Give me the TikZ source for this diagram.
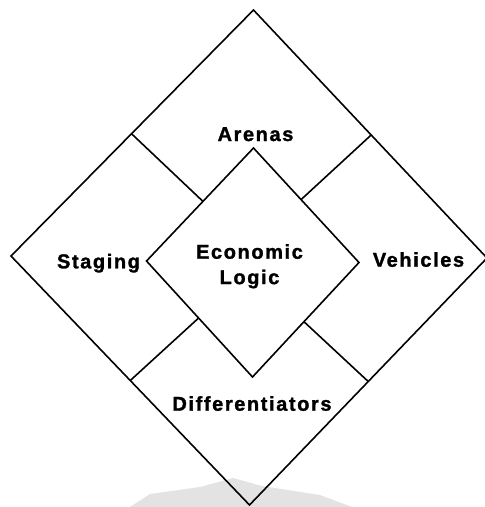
\documentclass[tikz,border=0pt]{standalone}
\usepackage{fontspec}
\usetikzlibrary{calc}
\setmainfont{Liberation Sans}
\newfontfamily\labelfont{Liberation Sans Bold}[LetterSpace=8,FakeBold=1.4]
\begin{document}
\begin{tikzpicture}[x=1pt,y=-1pt,
  frame/.style={draw=black,line width=1.6pt,line join=miter},
  divider/.style={draw=black,line width=1.6pt},
  lab/.style={font={\labelfont\fontsize{20}{25.4}\selectfont},inner sep=0pt,align=center}]
  \useasboundingbox (0,0) rectangle (485,507);
  % faint grey patch under the bottom corner
  \fill[gray!22] (130,507) -- (150,494) -- (200,487) -- (233,478) -- (262,486) -- (320,495) -- (352,507) -- cycle;
  % outer diamond corners (the right one runs just past the page edge)
  \coordinate (ot) at (253.5,10);
  \coordinate (ol) at (11,256);
  \coordinate (or) at (487,258);
  \coordinate (ob) at (249.5,505);
  % inner diamond corners
  \coordinate (it) at (253.5,148);
  \coordinate (il) at (146.5,261);
  \coordinate (ir) at (359,262.5);
  \coordinate (ib) at (252.5,377);
  % divider ends on the outer edges
  \coordinate (dul) at ($(ol)!0.497!(ot)$);
  \coordinate (dur) at ($(ot)!0.504!(or)$);
  \coordinate (dll) at ($(ol)!0.5!(ob)$);
  \coordinate (dlr) at ($(or)!0.5!(ob)$);
  % divider ends dropped perpendicularly onto the inner edges
  \coordinate (eul) at ($(il)!(dul)!(it)$);
  \coordinate (eur) at ($(it)!(dur)!(ir)$);
  \coordinate (ell) at ($(il)!(dll)!(ib)$);
  \coordinate (elr) at ($(ib)!(dlr)!(ir)$);
  \draw[frame] (ot) -- (or) -- (ob) -- (ol) -- cycle;
  \draw[frame] (it) -- (ir) -- (ib) -- (il) -- cycle;
  \draw[divider] (dul) -- (eul);
  \draw[divider] (dur) -- (eur);
  \draw[divider] (dll) -- (ell);
  \draw[divider] (dlr) -- (elr);
  % labels
  \node[lab,anchor=base] (arenas) at (255.5,141) {Arenas};
  \node[lab,anchor=base] (staging) at (98.5,268.3) {Staging};
  \node[lab,anchor=base] (vehicles) at (418.5,266.7) {Vehicles};
  \node[lab,anchor=base] (diff) at (252,410.7) {Differentiators};
  \node[lab,anchor=north] (logic) at (249.5,244) {Economic\\Logic};
\end{tikzpicture}
\end{document}
